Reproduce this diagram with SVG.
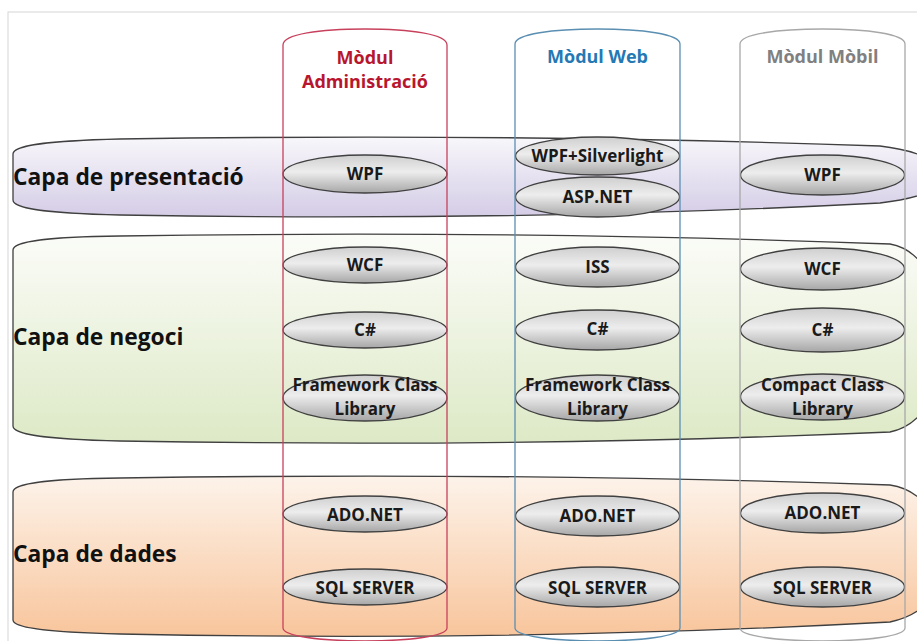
<svg xmlns="http://www.w3.org/2000/svg" width="917" height="641" viewBox="0 0 917 641">
<defs>
  <linearGradient id="gPres" x1="0" y1="0" x2="0" y2="1">
    <stop offset="0" stop-color="#f8f7fb"/>
    <stop offset="1" stop-color="#d4cce6"/>
  </linearGradient>
  <linearGradient id="gBiz" x1="0" y1="0" x2="0" y2="1">
    <stop offset="0" stop-color="#fbfcf8"/>
    <stop offset="1" stop-color="#dde9c6"/>
  </linearGradient>
  <linearGradient id="gData" x1="0" y1="0" x2="0" y2="1">
    <stop offset="0" stop-color="#fdf3ea"/>
    <stop offset="1" stop-color="#f8c59c"/>
  </linearGradient>
  <linearGradient id="gNode" x1="0" y1="0" x2="0" y2="1">
    <stop offset="0" stop-color="#cfcfcf"/>
    <stop offset="0.45" stop-color="#ededed"/>
    <stop offset="1" stop-color="#a6a6a6"/>
  </linearGradient>
</defs>
<style>
  .band { stroke: #404040; stroke-width: 1.3; }
  .col { fill: none; stroke-width: 1.3; }
  .node ellipse { fill: url(#gNode); stroke: #404040; stroke-width: 1.3; }
  .nt { font-family: "Open Sans", "Liberation Sans", sans-serif; font-weight: bold; font-size: 17px; fill: #1a1a1a; text-anchor: middle; }
  .lt { font-family: "Open Sans", "Liberation Sans", sans-serif; font-weight: bold; font-size: 22.8px; fill: #111; }
  .ht { font-family: "Open Sans", "Liberation Sans", sans-serif; font-weight: bold; font-size: 18px; text-anchor: middle; }
</style>
<rect x="0" y="0" width="917" height="641" fill="#ffffff"/>
<rect x="8" y="12" width="920" height="640" fill="#ffffff" stroke="#d6d6d6" stroke-width="1"/>

<g id="layer-presentacio">
  <path class="band" fill="url(#gPres)" d="M 13,200 L 13,154 C 13,146 40,141 120,139 Q 520,133 880,146 C 915,150 945,162 945,175 C 945,190 915,199 880,203 Q 520,222 120,215 C 40,213 13,208 13,200 Z"/>
  <text class="lt" x="13" y="185">Capa de presentació</text>
</g>
<g id="layer-negoci">
  <path class="band" fill="url(#gBiz)" d="M 13,426 L 13,250 C 13,242 40,237 120,236 Q 520,230 890,244 C 925,250 945,295 945,337 C 945,385 925,425 890,432 Q 520,448 120,441 C 40,439 13,434 13,426 Z"/>
  <text class="lt" x="13" y="345">Capa de negoci</text>
</g>
<g id="layer-dades">
  <path class="band" fill="url(#gData)" d="M 13,620 L 13,492 C 13,484 40,479 120,478 Q 520,472 890,485 C 925,490 945,525 945,555 C 945,590 925,615 890,622 Q 520,642 120,634 C 40,632 13,627 13,620 Z"/>
  <text class="lt" x="13" y="562">Capa de dades</text>
</g>

<g id="admin-wpf" class="node"><ellipse cx="365" cy="174" rx="82" ry="19"/><text class="nt" x="365" y="180">WPF</text></g>
<g id="admin-wcf" class="node"><ellipse cx="365" cy="265" rx="82" ry="18"/><text class="nt" x="365" y="271">WCF</text></g>
<g id="admin-cs" class="node"><ellipse cx="365" cy="330" rx="82" ry="18"/><text class="nt" x="365" y="336">C#</text></g>
<g id="admin-fcl" class="node"><ellipse cx="365" cy="398" rx="82" ry="23"/><text class="nt" x="365" y="391">Framework Class</text><text class="nt" x="365" y="415">Library</text></g>
<g id="admin-ado" class="node"><ellipse cx="365" cy="514" rx="82" ry="18"/><text class="nt" x="365" y="521">ADO.NET</text></g>
<g id="admin-sql" class="node"><ellipse cx="365" cy="587" rx="82" ry="18"/><text class="nt" x="365" y="594">SQL SERVER</text></g>

<g id="web-wpfsl" class="node"><ellipse cx="597.5" cy="156" rx="82" ry="19"/><text class="nt" x="597.5" y="162">WPF+Silverlight</text></g>
<g id="web-asp" class="node"><ellipse cx="597.5" cy="197" rx="82" ry="20"/><text class="nt" x="597.5" y="203">ASP.NET</text></g>
<g id="web-iss" class="node"><ellipse cx="597.5" cy="267" rx="82" ry="20"/><text class="nt" x="597.5" y="273">ISS</text></g>
<g id="web-cs" class="node"><ellipse cx="597.5" cy="330" rx="82" ry="20"/><text class="nt" x="597.5" y="335">C#</text></g>
<g id="web-fcl" class="node"><ellipse cx="597.5" cy="398" rx="82" ry="23"/><text class="nt" x="597.5" y="391">Framework Class</text><text class="nt" x="597.5" y="415">Library</text></g>
<g id="web-ado" class="node"><ellipse cx="597.5" cy="516" rx="82" ry="20"/><text class="nt" x="597.5" y="522">ADO.NET</text></g>
<g id="web-sql" class="node"><ellipse cx="597.5" cy="587" rx="82" ry="20"/><text class="nt" x="597.5" y="594">SQL SERVER</text></g>

<g id="mob-wpf" class="node"><ellipse cx="822.5" cy="175" rx="82" ry="20"/><text class="nt" x="822.5" y="181">WPF</text></g>
<g id="mob-wcf" class="node"><ellipse cx="822.5" cy="269" rx="82" ry="21"/><text class="nt" x="822.5" y="275">WCF</text></g>
<g id="mob-cs" class="node"><ellipse cx="822.5" cy="330" rx="82" ry="22"/><text class="nt" x="822.5" y="336">C#</text></g>
<g id="mob-ccl" class="node"><ellipse cx="822.5" cy="397" rx="82" ry="23"/><text class="nt" x="822.5" y="391">Compact Class</text><text class="nt" x="822.5" y="415">Library</text></g>
<g id="mob-ado" class="node"><ellipse cx="822.5" cy="513" rx="82" ry="20"/><text class="nt" x="822.5" y="519">ADO.NET</text></g>
<g id="mob-sql" class="node"><ellipse cx="822.5" cy="587" rx="82" ry="20"/><text class="nt" x="822.5" y="594">SQL SERVER</text></g>

<g id="col-admin">
  <path class="col" stroke="#c8415c" d="M 283,45 C 283,34 320,29 365,29 C 410,29 447,34 447,45 L 447,628 C 447,636 410,641 365,641 C 320,641 283,636 283,628 Z"/>
  <text class="ht" fill="#b8162e" x="365" y="64">Mòdul</text>
  <text class="ht" fill="#b8162e" x="365" y="88">Administració</text>
</g>
<g id="col-web">
  <path class="col" stroke="#5b8fb2" d="M 515,44 C 515,34 553,29 597.5,29 C 642,29 680,34 680,44 L 680,628 C 680,636 642,641 597.5,641 C 553,641 515,636 515,628 Z"/>
  <text class="ht" fill="#2479b5" x="597.5" y="63">Mòdul Web</text>
</g>
<g id="col-mobil">
  <path class="col" stroke="#a8a8a8" d="M 740,44 C 740,34 778,29 822.5,29 C 867,29 905,34 905,44 L 905,628 C 905,636 867,641 822.5,641 C 778,641 740,636 740,628 Z"/>
  <text class="ht" fill="#808080" x="822.5" y="63">Mòdul Mòbil</text>
</g>
</svg>
